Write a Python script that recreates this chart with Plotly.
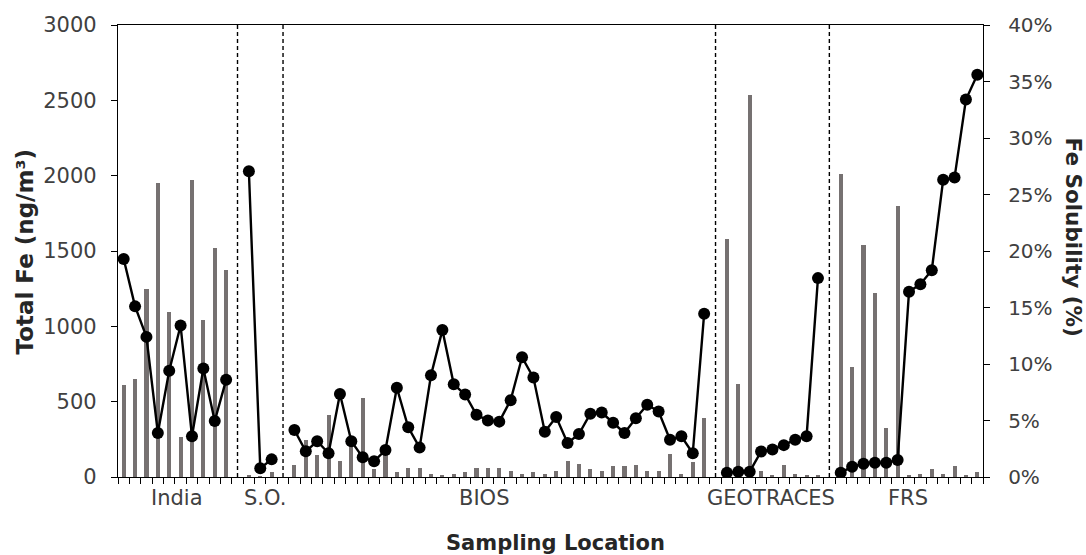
import plotly.graph_objects as go

# Sampling groups, in plotting order
groups = ["India", "S.O.", "BIOS", "GEOTRACES", "FRS"]

# Total Fe (ng/m3) per sample
fe_india = [608, 648, 1250, 1953, 1095, 268, 1971, 1040, 1522, 1371]
fe_so = [11, 5, 33]
fe_bios = [80, 243, 148, 414, 108, 220, 527, 51, 160, 31, 62, 62, 22, 13, 22,
           31, 62, 62, 62, 42, 22, 31, 22, 42, 108, 89, 53, 42, 71, 71, 80,
           42, 42, 155, 22, 97, 394]
fe_geotraces = [1582, 619, 2533, 40, 11, 80, 22, 11, 11]
fe_frs = [2009, 732, 1540, 1219, 323, 1799, 11, 20, 51, 20, 71, 11, 33]

# Fe solubility (%) per sample
sol_india = [19.3, 15.1, 12.4, 3.9, 9.4, 13.4, 3.6, 9.6, 4.96, 8.6]
sol_so = [27.05, 0.77, 1.56]
sol_bios = [4.16, 2.27, 3.16, 2.1, 7.35, 3.16, 1.74, 1.39, 2.39, 7.9, 4.4,
            2.6, 9.0, 13.0, 8.2, 7.3, 5.5, 5.0, 4.9, 6.8, 10.6, 8.8, 4.0, 5.3,
            3.0, 3.8, 5.6, 5.7, 4.8, 3.9, 5.2, 6.4, 5.8, 3.3, 3.6, 2.1, 14.45]
sol_geotraces = [0.38, 0.47, 0.47, 2.26, 2.44, 2.82, 3.3, 3.6, 17.6]
sol_frs = [0.38, 0.91, 1.18, 1.26, 1.26, 1.5, 16.4, 17.06, 18.3, 26.3, 26.5,
           33.4, 35.6]

# Axis ticks
fe_ticks = [0, 500, 1000, 1500, 2000, 2500, 3000]
sol_ticks = [0, 5, 10, 15, 20, 25, 30, 35, 40]
sol_ticktext = [f"{v}%" for v in sol_ticks]

fe_groups = [fe_india, fe_so, fe_bios, fe_geotraces, fe_frs]
sol_groups = [sol_india, sol_so, sol_bios, sol_geotraces, sol_frs]

# Lay the samples out on one category axis with an empty slot between groups
xs, fe, sol = [], [], []
separators = []
label_pos = []
pos = 1
for gi, (f, s) in enumerate(zip(fe_groups, sol_groups)):
    start = pos
    for fv, sv in zip(f, s):
        xs.append(pos)
        fe.append(fv)
        sol.append(sv)
        pos += 1
    label_pos.append((start + pos - 1) / 2)
    if gi < len(fe_groups) - 1:
        separators.append(pos)
        xs.append(pos)
        fe.append(None)
        sol.append(None)
        pos += 1
n_slots = pos - 1

# Small nudges for the group captions along the axis
label_offset = [0.15, 0.4, -1.3, -0.1, -0.1]

FONT = "DejaVu Sans"
TXT = "#404040"
TITLE = "#262626"

fig = go.Figure()
fig.add_trace(go.Bar(
    x=xs, y=fe, width=0.36,
    marker=dict(color="#767171", line=dict(width=0)),
    name="Total Fe", yaxis="y",
))
fig.add_trace(go.Scatter(
    x=xs, y=sol, mode="lines+markers", connectgaps=False,
    line=dict(color="black", width=2.4),
    marker=dict(color="black", size=12),
    name="Fe Solubility", yaxis="y2",
))

# Dashed separators between sampling groups
for sx in separators:
    fig.add_shape(type="line", xref="x", yref="paper", x0=sx, x1=sx,
                  y0=0, y1=1, line=dict(color="black", width=1.4, dash="4px,3px"))

annotations = []
for name, lp, off in zip(groups, label_pos, label_offset):
    annotations.append(dict(x=lp + off, y=-0.046, xref="x", yref="paper",
                            text=name, showarrow=False, yanchor="middle",
                            font=dict(family=FONT, size=21, color=TXT)))
annotations.append(dict(x=0.506, y=-0.146, xref="paper", yref="paper",
                        text="<b>Sampling Location</b>", showarrow=False,
                        yanchor="middle",
                        font=dict(family=FONT, size=21, color=TITLE)))
annotations.append(dict(x=-0.108, y=0.498, xref="paper", yref="paper",
                        text="<b>Total Fe (ng/m³)</b>", showarrow=False,
                        textangle=-90, xanchor="center", yanchor="middle",
                        font=dict(family=FONT, size=23, color=TITLE)))
annotations.append(dict(x=1.1045, y=0.531, xref="paper", yref="paper",
                        text="<b>Fe Solubility (%)</b>", showarrow=False,
                        textangle=90, xanchor="center", yanchor="middle",
                        font=dict(family=FONT, size=21.5, color=TITLE)))

fig.update_layout(
    width=1086, height=555,
    margin=dict(l=118, r=103, t=25, b=78),
    paper_bgcolor="white", plot_bgcolor="white",
    showlegend=False, bargap=0,
    font=dict(family=FONT, size=21, color=TXT),
    xaxis=dict(
        range=[0.5, n_slots + 0.5],
        tickmode="array",
        tickvals=[i + 0.5 for i in range(0, n_slots + 1)],
        showticklabels=False,
        ticks="outside", ticklen=6, tickwidth=1, tickcolor="black",
        showline=True, linecolor="black", linewidth=1.3, mirror=True,
        showgrid=False, zeroline=False,
    ),
    yaxis=dict(
        range=[0, 3000], tickmode="array", tickvals=fe_ticks,
        ticks="outside", ticklen=6, tickcolor="black",
        ticklabelstandoff=10,
        showline=True, linecolor="black", linewidth=1.3,
        showgrid=False, zeroline=False,
        tickfont=dict(family=FONT, size=21, color=TXT),
    ),
    yaxis2=dict(
        range=[0, 40], tickmode="array", tickvals=sol_ticks,
        ticktext=sol_ticktext, overlaying="y", side="right",
        ticks="outside", ticklen=6, tickcolor="black",
        ticklabelstandoff=14,
        showline=True, linecolor="black", linewidth=1.3,
        showgrid=False, zeroline=False,
        tickfont=dict(family=FONT, size=20, color=TXT),
    ),
    annotations=annotations,
)

fig.write_html("out.html")
